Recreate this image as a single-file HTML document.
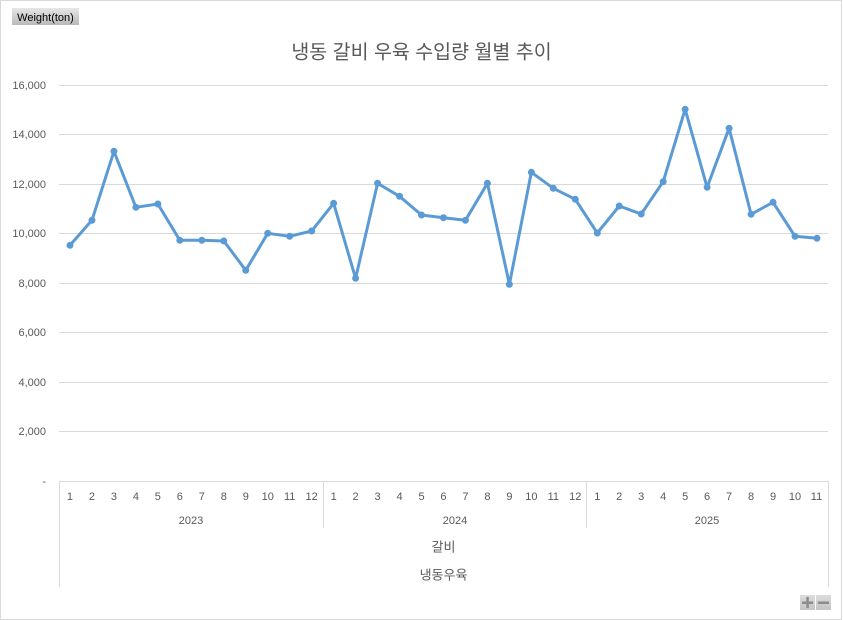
<!DOCTYPE html>
<html><head><meta charset="utf-8"><style>
html,body{margin:0;padding:0;background:#fff;}
svg{display:block;}
text{font-family:"Liberation Sans","Noto Sans CJK KR",sans-serif;fill:#595959;}
</style></head><body>
<svg width="843" height="620" viewBox="0 0 843 620" xmlns="http://www.w3.org/2000/svg">
<defs>
<linearGradient id="bg" x1="0" y1="0" x2="0" y2="1"><stop offset="0" stop-color="#e6e6e6"/><stop offset="1" stop-color="#b9b9b9"/></linearGradient>
<linearGradient id="bg2" x1="0" y1="0" x2="0" y2="1"><stop offset="0" stop-color="#dcdcdc"/><stop offset="1" stop-color="#c4c4c4"/></linearGradient>
</defs>
<rect x="0.5" y="0.5" width="841" height="619" fill="#fff" stroke="#d9d9d9"/>
<rect x="12" y="8" width="67" height="17" fill="url(#bg)"/>
<text x="45.5" y="21" text-anchor="middle" style="fill:#000;font-size:11px">Weight(ton)</text>
<text x="421.5" y="58.5" text-anchor="middle" style="font-size:19.5px">냉동 갈비 우육 수입량 월별 추이</text>
<g stroke="#d9d9d9" stroke-width="1">
<line x1="59" y1="85.5" x2="828" y2="85.5"/>
<line x1="59" y1="134.5" x2="828" y2="134.5"/>
<line x1="59" y1="184.5" x2="828" y2="184.5"/>
<line x1="59" y1="233.5" x2="828" y2="233.5"/>
<line x1="59" y1="283.5" x2="828" y2="283.5"/>
<line x1="59" y1="332.5" x2="828" y2="332.5"/>
<line x1="59" y1="382.5" x2="828" y2="382.5"/>
<line x1="59" y1="431.5" x2="828" y2="431.5"/>
<line x1="59" y1="481.5" x2="828" y2="481.5"/>
<line x1="59.5" y1="481" x2="59.5" y2="587"/>
<line x1="828.5" y1="481" x2="828.5" y2="587"/>
<line x1="323.5" y1="481" x2="323.5" y2="528"/>
<line x1="586.5" y1="481" x2="586.5" y2="528"/>
</g>
<g style="font-size:11px" text-anchor="end">
<text x="46" y="89">16,000</text>
<text x="46" y="138">14,000</text>
<text x="46" y="188">12,000</text>
<text x="46" y="237">10,000</text>
<text x="46" y="287">8,000</text>
<text x="46" y="336">6,000</text>
<text x="46" y="386">4,000</text>
<text x="46" y="435">2,000</text>
<text x="46" y="485">-</text>
</g>
<g style="font-size:11px" text-anchor="middle">
<text x="69.99" y="500">1</text><text x="91.96" y="500">2</text><text x="113.93" y="500">3</text><text x="135.9" y="500">4</text><text x="157.87" y="500">5</text><text x="179.84" y="500">6</text><text x="201.81" y="500">7</text><text x="223.78" y="500">8</text><text x="245.75" y="500">9</text><text x="267.72" y="500">10</text><text x="289.69" y="500">11</text><text x="311.66" y="500">12</text>
<text x="333.63" y="500">1</text><text x="355.6" y="500">2</text><text x="377.57" y="500">3</text><text x="399.54" y="500">4</text><text x="421.51" y="500">5</text><text x="443.48" y="500">6</text><text x="465.45" y="500">7</text><text x="487.42" y="500">8</text><text x="509.39" y="500">9</text><text x="531.36" y="500">10</text><text x="553.33" y="500">11</text><text x="575.3" y="500">12</text>
<text x="597.27" y="500">1</text><text x="619.24" y="500">2</text><text x="641.21" y="500">3</text><text x="663.18" y="500">4</text><text x="685.15" y="500">5</text><text x="707.12" y="500">6</text><text x="729.09" y="500">7</text><text x="751.06" y="500">8</text><text x="773.03" y="500">9</text><text x="795" y="500">10</text><text x="816.5" y="500">11</text>
<text x="191" y="524">2023</text>
<text x="455" y="524">2024</text>
<text x="707" y="524">2025</text>
</g>
<g style="font-size:13px" text-anchor="middle">
<text x="443.5" y="551.5">갈비</text>
<text x="443.5" y="579.5">냉동우육</text>
</g>
<polyline fill="none" stroke="#5b9bd5" stroke-width="3" stroke-linejoin="round" stroke-linecap="round" points="69.99,245.3 91.96,220.3 113.93,151.3 135.9,207.3 157.87,204 179.84,240.3 201.81,240.3 223.78,241 245.75,270.3 267.72,233.3 289.69,236.3 311.66,231 333.63,203.3 355.6,278.3 377.57,183.3 399.54,196.3 421.51,215 443.48,217.7 465.45,220.3 487.42,183.3 509.39,284.3 531.36,172.3 553.33,188.3 575.3,199.3 597.27,233 619.24,206 641.21,214 663.18,181.7 685.15,109.3 707.12,187.3 729.09,128.3 751.06,214.3 773.03,202.3 795,236.3 816.97,238.3"/>
<g fill="#5b9bd5">
<circle cx="69.99" cy="245.3" r="3.5"/><circle cx="91.96" cy="220.3" r="3.5"/><circle cx="113.93" cy="151.3" r="3.5"/><circle cx="135.9" cy="207.3" r="3.5"/><circle cx="157.87" cy="204" r="3.5"/><circle cx="179.84" cy="240.3" r="3.5"/><circle cx="201.81" cy="240.3" r="3.5"/><circle cx="223.78" cy="241" r="3.5"/><circle cx="245.75" cy="270.3" r="3.5"/><circle cx="267.72" cy="233.3" r="3.5"/><circle cx="289.69" cy="236.3" r="3.5"/><circle cx="311.66" cy="231" r="3.5"/><circle cx="333.63" cy="203.3" r="3.5"/><circle cx="355.6" cy="278.3" r="3.5"/><circle cx="377.57" cy="183.3" r="3.5"/><circle cx="399.54" cy="196.3" r="3.5"/><circle cx="421.51" cy="215" r="3.5"/><circle cx="443.48" cy="217.7" r="3.5"/><circle cx="465.45" cy="220.3" r="3.5"/><circle cx="487.42" cy="183.3" r="3.5"/><circle cx="509.39" cy="284.3" r="3.5"/><circle cx="531.36" cy="172.3" r="3.5"/><circle cx="553.33" cy="188.3" r="3.5"/><circle cx="575.3" cy="199.3" r="3.5"/><circle cx="597.27" cy="233" r="3.5"/><circle cx="619.24" cy="206" r="3.5"/><circle cx="641.21" cy="214" r="3.5"/><circle cx="663.18" cy="181.7" r="3.5"/><circle cx="685.15" cy="109.3" r="3.5"/><circle cx="707.12" cy="187.3" r="3.5"/><circle cx="729.09" cy="128.3" r="3.5"/><circle cx="751.06" cy="214.3" r="3.5"/><circle cx="773.03" cy="202.3" r="3.5"/><circle cx="795" cy="236.3" r="3.5"/><circle cx="816.97" cy="238.3" r="3.5"/>
</g>
<rect x="800" y="595" width="15" height="15" fill="url(#bg2)"/>
<rect x="816" y="595" width="15" height="15" fill="url(#bg2)"/>
<g fill="#8c8c8c">
<rect x="802" y="601.5" width="11" height="2.5"/>
<rect x="806.3" y="597" width="2.5" height="11"/>
<rect x="818" y="601.5" width="11" height="2.5"/>
</g>
</svg>
</body></html>
